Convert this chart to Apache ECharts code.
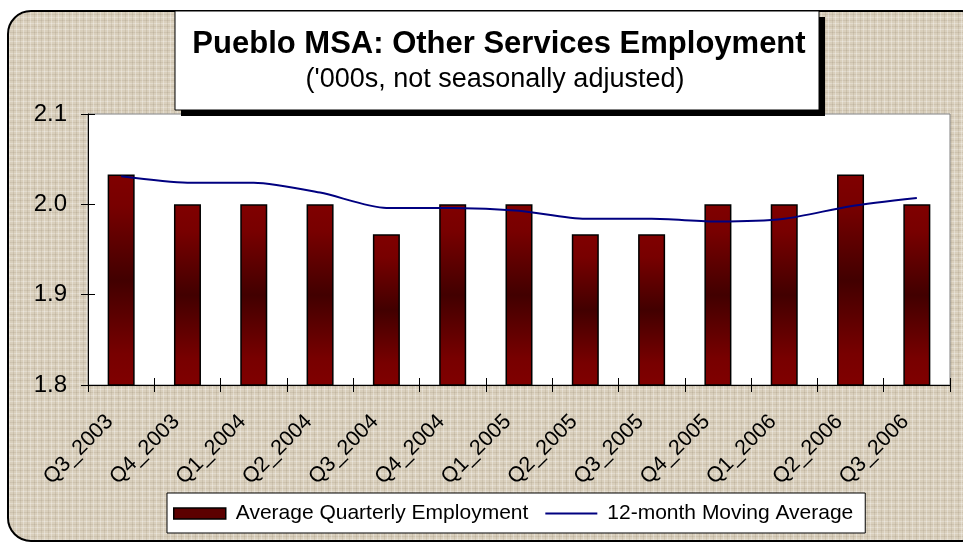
<!DOCTYPE html>
<html>
<head>
<meta charset="utf-8">
<script src="https://cdn.jsdelivr.net/npm/echarts@6/dist/echarts.min.js"></script>
<style>
  html, body { margin: 0; padding: 0; background: #ffffff; }
  .frame {
    position: absolute;
    left: 7px;
    top: 10px;
    width: 975px;
    height: 528px;
    border: 2px solid #000;
    border-radius: 24px;
    background-color: #d9cfbc;
    background-image:
      repeating-linear-gradient(90deg, rgba(255,255,255,0.3) 0 1px, rgba(0,0,0,0) 1px 4px, rgba(120,105,80,0.14) 4px 5px, rgba(0,0,0,0) 5px 7px),
      repeating-linear-gradient(0deg, rgba(255,255,255,0.25) 0 1px, rgba(0,0,0,0) 1px 3px, rgba(120,105,80,0.12) 3px 4px, rgba(0,0,0,0) 4px 6px);
  }
  #chart { position: absolute; left: 0; top: 0; width: 963px; height: 542px; }
</style>
</head>
<body>
<div class="frame"></div>
<div id="chart"></div>
<script>
// quarters on the x axis
const categories = ['Q3_2003', 'Q4_2003', 'Q1_2004', 'Q2_2004', 'Q3_2004', 'Q4_2004', 'Q1_2005',
  'Q2_2005', 'Q3_2005', 'Q4_2005', 'Q1_2006', 'Q2_2006', 'Q3_2006']
// average quarterly employment ('000s)
const quarterly = [2.033, 2.0, 2.0, 2.0, 1.967, 2.0, 2.0, 1.967, 1.967, 2.0, 2.0, 2.033, 2.0]
// 12-month moving average
const movingAvg = [2.031, 2.024, 2.024, 2.013, 1.996, 1.996, 1.993, 1.984, 1.984, 1.981, 1.984, 1.998, 2.007]
const yTicks = [1.8, 1.9, 2.0, 2.1]

const chart = echarts.init(document.getElementById('chart'))

const barGradient = new echarts.graphic.LinearGradient(0, 0, 0, 1, [
  { offset: 0, color: '#800000' },
  { offset: 0.15, color: '#780000' },
  { offset: 0.5, color: '#420000' },
  { offset: 0.85, color: '#780000' },
  { offset: 1, color: '#800000' }
])

const yAxisBase = {
  type: 'value',
  min: yTicks[0],
  max: yTicks[yTicks.length - 1],
  interval: 0.1,
  splitLine: { show: false }
}

chart.setOption({
  animation: false,
  textStyle: { fontFamily: 'Liberation Sans, Arial, sans-serif' },
  grid: {
    left: 88,
    right: 13,
    top: 114,
    bottom: 157,
    show: true,
    backgroundColor: '#ffffff',
    borderColor: '#808080',
    borderWidth: 1
  },
  graphic: [
    // title box with its drop shadow
    { type: 'rect', shape: { x: 181, y: 17, width: 644, height: 99 }, style: { fill: '#000' }, z: 100 },
    { type: 'rect', shape: { x: 175, y: 11, width: 644, height: 99 }, style: { fill: '#fff', stroke: '#000', lineWidth: 1 }, z: 101 },
    {
      type: 'text', x: 499, y: 44, z: 102,
      style: { text: 'Pueblo MSA: Other Services Employment', fontSize: 31, fontWeight: 'bold',
        fontFamily: 'Liberation Sans, Arial, sans-serif', fill: '#000', align: 'center', verticalAlign: 'middle' }
    },
    {
      type: 'text', x: 495, y: 80, z: 102,
      style: { text: "('000s, not seasonally adjusted)", fontSize: 27,
        fontFamily: 'Liberation Sans, Arial, sans-serif', fill: '#000', align: 'center', verticalAlign: 'middle' }
    }
  ],
  legend: {
    left: 167,
    top: 493,
    padding: [10, 12, 9, 6],
    itemWidth: 52,
    itemHeight: 11,
    itemGap: 16,
    backgroundColor: '#ffffff',
    borderColor: '#000',
    borderWidth: 1,
    textStyle: { fontSize: 21, color: '#000', padding: [0, 0, 0, 5] },
    data: [
      { name: 'Average Quarterly Employment', icon: 'rect',
        itemStyle: { color: '#5c0000', borderColor: '#000', borderWidth: 1.5 } },
      { name: '12-month Moving Average', itemStyle: { opacity: 0 } }
    ]
  },
  xAxis: [
    {
      type: 'category',
      data: categories,
      boundaryGap: true,
      axisLine: { lineStyle: { color: '#000', width: 1 } },
      axisTick: { show: true, length: 7, lineStyle: { color: '#000' } },
      axisLabel: { rotate: 45, fontSize: 21.5, color: '#000', margin: 22, padding: [0, 16, 0, 0] }
    },
    {
      type: 'category',
      data: categories,
      position: 'bottom',
      boundaryGap: true,
      axisLine: { show: false },
      axisTick: { show: true, inside: true, length: 7, lineStyle: { color: '#000' } },
      axisLabel: { show: false }
    }
  ],
  yAxis: [
    Object.assign({}, yAxisBase, {
      axisLine: { show: true, lineStyle: { color: '#000', width: 1 } },
      axisTick: { show: true, length: 7, lineStyle: { color: '#000' } },
      axisLabel: { fontSize: 24, color: '#000', margin: 21, formatter: v => v.toFixed(1) }
    }),
    Object.assign({}, yAxisBase, {
      position: 'left',
      axisLine: { show: false },
      axisTick: { show: true, inside: true, length: 7, lineStyle: { color: '#000' } },
      axisLabel: { show: false }
    })
  ],
  series: [
    {
      name: 'Average Quarterly Employment',
      type: 'bar',
      data: quarterly,
      barWidth: 27,
      itemStyle: { color: barGradient, borderColor: '#000', borderWidth: 1.5 }
    },
    {
      name: '12-month Moving Average',
      type: 'line',
      data: movingAvg,
      symbol: 'none',
      smooth: 0.25,
      lineStyle: { color: '#000080', width: 2 },
      itemStyle: { color: '#000080' },
      z: 5
    }
  ]
})
</script>
</body>
</html>
